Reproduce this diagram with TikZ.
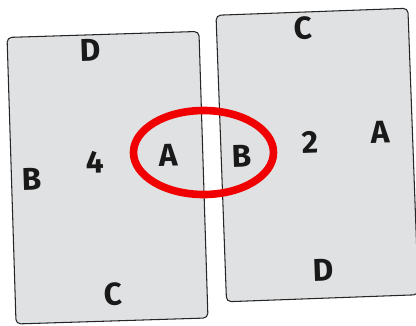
\documentclass[tikz,border=0pt]{standalone}
\usepackage{fontspec}
\setmainfont{Fira Sans}
\definecolor{cardgray}{HTML}{E0E1E3}
\definecolor{ringred}{HTML}{F00000}
\tikzset{
  card/.style={draw=black!85,fill=cardgray,line width=0.9pt,rounded corners=4pt,
    minimum width=5.76cm,minimum height=8.6cm,inner sep=0pt},
  letter/.style={font=\fontsize{27}{27}\selectfont\bfseries,text=black!90,inner sep=0pt},
  ring/.style={draw=ringred,line width=6.5pt}
}
\begin{document}
\begin{tikzpicture}[x=0.03cm,y=-0.03cm]
\useasboundingbox (0,0) rectangle (416,325);

% the two cards
\node[card,rotate=1.8] (leftcard) at (107.5,177.7) {};
\node[card,rotate=2.1] (rightcard) at (317.2,155) {};

% left card
\node[letter,rotate=1.8] (lD) at (90,50) {D};
\node[letter,rotate=1.8] (lfour) at (95,162) {4};
\node[letter,rotate=1.8] (lA) at (168,155) {A};
\node[letter,rotate=1.8] (lB) at (32,179) {B};
\node[letter,rotate=1.8] (lC) at (113,294) {C};

% right card
\node[letter,rotate=2.1] (rC) at (303,28) {C};
\node[letter,rotate=2.1] (rtwo) at (310,142) {2};
\node[letter,rotate=2.1] (rA) at (380,132) {A};
\node[letter,rotate=2.1] (rB) at (242,156) {B};
\node[letter,rotate=2.1] (rD) at (323,270) {D};

% matching edge
\draw[ring] (203.5,152.5) ellipse [x radius=70, y radius=42];
\end{tikzpicture}
\end{document}
